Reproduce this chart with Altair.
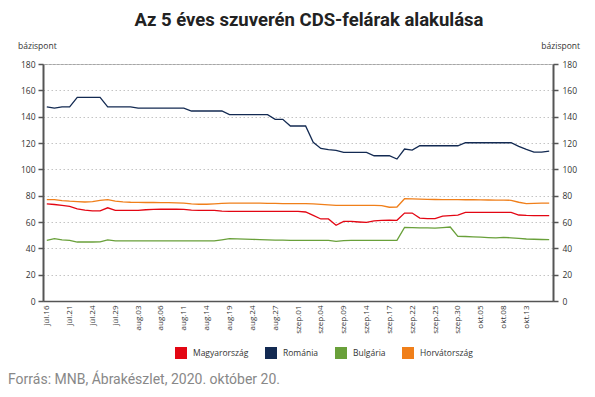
import altair as alt
import pandas as pd

dates = (
    ["júl." + d for d in ["16", "17", "20", "21", "22", "23", "24", "27", "28", "29", "30", "31"]]
    + ["aug." + d for d in ["03", "04", "05", "06", "07", "10", "11", "12", "13", "14", "17", "18",
                            "19", "20", "21", "24", "25", "26", "27", "28", "31"]]
    + ["szep." + d for d in ["01", "02", "03", "04", "07", "08", "09", "10", "11", "14", "15", "16",
                             "17", "18", "21", "22", "23", "24", "25", "28", "29", "30"]]
    + ["okt." + d for d in ["01", "02", "05", "06", "07", "08", "09", "12", "13", "14", "15", "16"]]
)

magyarorszag = [73.7, 73.3, 72.7, 71.8, 70.0, 69.0, 68.4, 68.5, 70.8, 68.8,
                68.8, 68.8, 68.8, 69.3, 69.6, 69.7, 69.7, 69.7, 69.6, 69.0,
                68.8, 68.8, 68.8, 68.3, 68.1, 68.1, 68.1, 68.1, 68.1, 68.1,
                68.1, 68.1, 68.1, 68.0, 67.6, 65.0, 62.3, 62.3, 57.5, 60.5,
                60.4, 60.0, 59.7, 60.8, 61.2, 61.4, 61.3, 66.8, 66.8, 63.0,
                62.6, 62.5, 64.5, 64.8, 65.2, 67.3, 67.3, 67.3, 67.3, 67.3,
                67.3, 67.3, 65.3, 65.0, 64.9, 64.8, 64.8]

romania = [147.5, 146.5, 147.5, 147.5, 154.7, 154.7, 154.7, 154.7, 147.5, 147.5,
           147.5, 147.5, 146.5, 146.5, 146.5, 146.5, 146.5, 146.5, 146.5, 144.3,
           144.3, 144.3, 144.3, 144.3, 141.5, 141.5, 141.5, 141.5, 141.5, 141.5,
           138.0, 138.0, 132.9, 132.9, 132.9, 120.5, 115.9, 115.0, 114.4, 112.9,
           112.9, 112.9, 112.9, 110.3, 110.3, 110.3, 107.8, 115.4, 114.6, 117.9,
           117.9, 117.9, 117.9, 117.9, 117.9, 120.2, 120.2, 120.2, 120.2, 120.2,
           120.2, 120.2, 117.5, 115.2, 113.1, 113.1, 113.9]

bulgaria = [46.1, 47.3, 46.4, 46.0, 44.8, 44.8, 44.8, 44.9, 46.4, 45.6,
            45.6, 45.6, 45.6, 45.6, 45.6, 45.6, 45.6, 45.6, 45.6, 45.6,
            45.6, 45.6, 45.7, 46.5, 47.3, 47.2, 47.0, 46.8, 46.6, 46.4,
            46.3, 46.2, 46.1, 46.0, 46.0, 46.0, 46.0, 46.0, 45.3, 45.8,
            46.0, 46.0, 46.0, 46.0, 46.0, 46.0, 46.0, 55.9, 55.7, 55.6,
            55.5, 55.4, 55.8, 56.2, 49.1, 49.0, 48.7, 48.5, 48.2, 47.9,
            48.3, 48.0, 47.5, 47.1, 46.9, 46.7, 46.6]

horvatorszag = [77.0, 77.0, 76.3, 75.8, 75.5, 75.2, 75.5, 76.5, 77.0, 75.8,
                75.3, 75.0, 74.9, 74.8, 74.8, 74.7, 74.7, 74.5, 74.3, 73.7,
                73.5, 73.5, 73.8, 74.2, 74.3, 74.3, 74.3, 74.3, 74.3, 74.2,
                74.1, 74.0, 74.0, 74.0, 74.0, 73.8, 73.4, 73.0, 72.7, 72.7,
                72.7, 72.7, 72.7, 72.6, 72.5, 71.2, 71.4, 77.7, 77.5, 77.3,
                77.2, 77.1, 77.0, 77.0, 77.0, 76.9, 76.9, 76.8, 76.7, 76.6,
                76.6, 76.5, 75.0, 74.0, 74.2, 74.4, 74.4]

countries = ["Magyarország", "Románia", "Bulgária", "Horvátország"]
colors = ["#e30613", "#132a52", "#69a03a", "#f07f1a"]
y_ticks = [0, 20, 40, 60, 80, 100, 120, 140, 160, 180]
x_labels = dates[:64:3]

title_text = "Az 5 éves szuverén CDS-felárak alakulása"
unit_text = "bázispont"
source_text = "Forrás: MNB, Ábrakészlet, 2020. október 20."

rows = []
for name, series in zip(countries, [magyarorszag, romania, bulgaria, horvatorszag]):
    for d, v in zip(dates, series):
        rows.append({"country": name, "date": d, "value": v})
df = pd.DataFrame(rows)

W, H = 510, 237
LABEL_FONT = "Open Sans"

xscale = alt.Scale(type="point", padding=0.5)
yscale = alt.Scale(domain=[0, 180], nice=False)

x_enc = alt.X("date:N", sort=dates, scale=xscale,
              axis=alt.Axis(values=x_labels, labelAngle=-90, ticks=False, domainColor="#555555",
                            domainWidth=1.5, labelFont=LABEL_FONT, labelFontSize=8,
                            labelColor="#333333", labelPadding=4, labelOverlap=False,
                            title=None, grid=False, zindex=1))

lines = alt.Chart(df).mark_line(strokeWidth=1.3).encode(
    x=x_enc,
    y=alt.Y("value:Q", scale=yscale,
            axis=alt.Axis(values=y_ticks, orient="left", title=None, grid=True, gridDash=[1.5, 2.5],
                          gridColor="#c4c4c4", gridWidth=1, domainColor="#555555", domainWidth=2,
                          tickColor="#555555", tickWidth=1.5, tickSize=5, labelFont=LABEL_FONT,
                          labelFontSize=8.5, labelColor="#333333", labelPadding=3)),
    color=alt.Color("country:N", scale=alt.Scale(domain=countries, range=colors),
                    legend=alt.Legend(orient="none", legendX=132, legendY=283, direction="horizontal",
                                      title=None, symbolType="square", symbolSize=36,
                                      symbolStrokeWidth=6, labelFont=LABEL_FONT, labelFontSize=8.5,
                                      labelColor="#333333", labelOffset=6, columnPadding=7,
                                      gridAlign="none", padding=0)),
)

right_axis = alt.Chart(df).mark_line(opacity=0).encode(
    x=x_enc,
    y=alt.Y("value:Q", scale=yscale,
            axis=alt.Axis(values=y_ticks, orient="right", title=None, grid=False,
                          domainColor="#555555", domainWidth=2, tickColor="#555555", tickWidth=1.5,
                          tickSize=5, labelFont=LABEL_FONT, labelFontSize=8.5, labelColor="#333333",
                          labelPadding=4)),
    detail="country:N",
)


def label(text, x, y, **kw):
    return alt.Chart(pd.DataFrame({"t": [text]})).mark_text(**kw).encode(
        text="t:N", x=alt.value(x), y=alt.value(y))


title = label(title_text, 266, -38.5, font="Liberation Sans Narrow, Roboto", fontWeight="bold",
              fontSize=18.5, color="#222222", align="center", baseline="alphabetic")
unit_left = label(unit_text, -25, -15, font=LABEL_FONT, fontSize=8.5, color="#333333",
                  align="left", baseline="alphabetic")
unit_right = label(unit_text, 537, -15, font=LABEL_FONT, fontSize=8.5, color="#333333",
                   align="right", baseline="alphabetic")
source = label(source_text, -35, 320, font="Roboto", fontSize=14, color="#888888",
               align="left", baseline="alphabetic")

chart = (
    alt.layer(lines, right_axis, title, unit_left, unit_right, source)
    .resolve_axis(y="independent")
    .properties(width=W, height=H, autosize=alt.AutoSizeParams(type="none"),
                padding={"left": 35, "top": 56, "right": 34, "bottom": 88},
                background="white")
    .configure_view(stroke="#a6a6a6", strokeWidth=1)
)

chart.save("out.html", embed_options={"renderer": "svg", "actions": False})
